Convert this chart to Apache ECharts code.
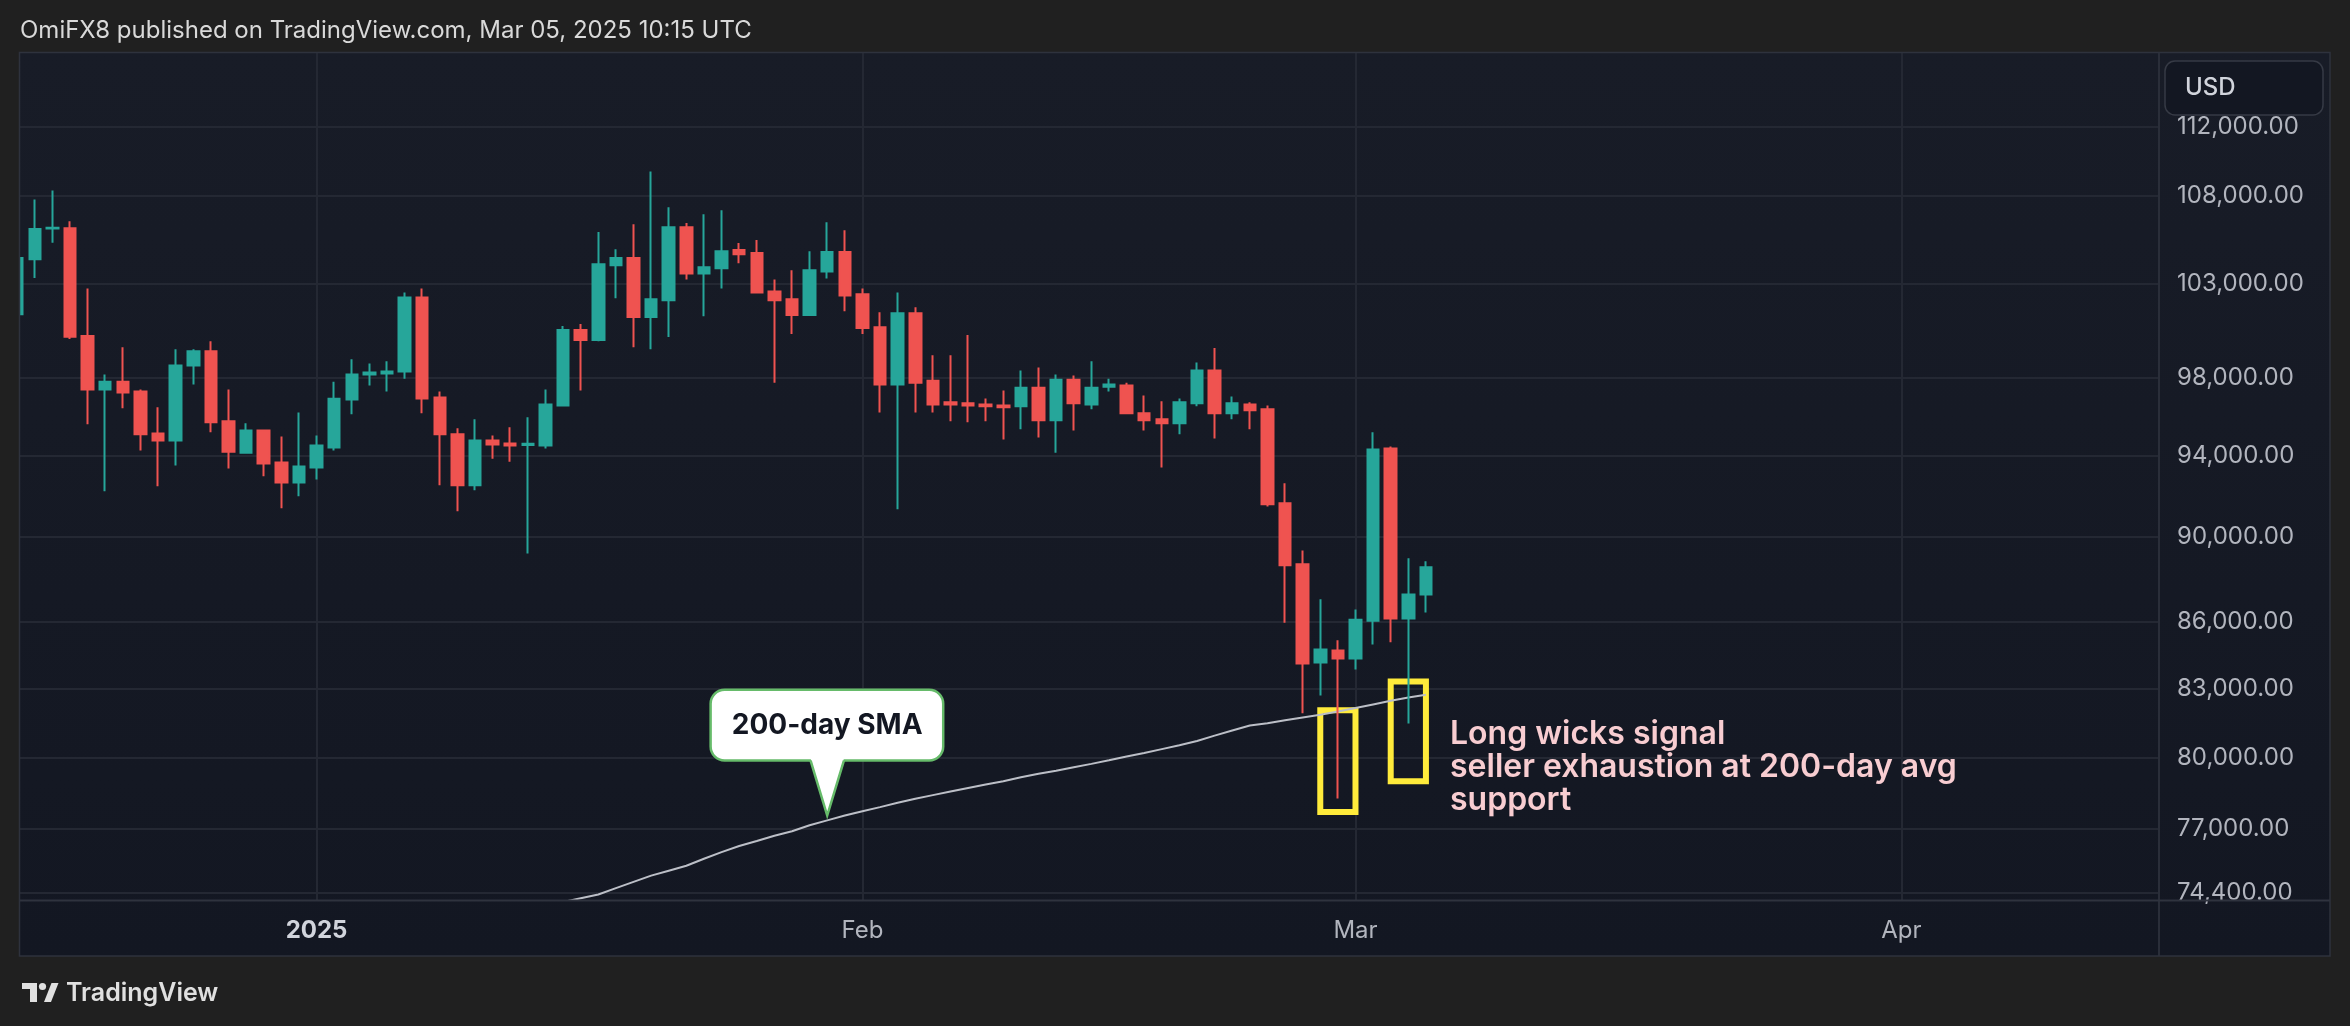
<!DOCTYPE html>
<html>
<head>
<meta charset="utf-8">
<script src="https://cdn.jsdelivr.net/npm/echarts@6/dist/echarts.min.js"></script>
<style>
html,body{margin:0;padding:0;background:#202020;}
#c{width:2350px;height:1026px;}
</style>
</head>
<body>
<div id="c"></div>
<script>
// ---------- data ----------
const dates = [
'2024-12-15','2024-12-16','2024-12-17','2024-12-18','2024-12-19','2024-12-20','2024-12-21','2024-12-22','2024-12-23','2024-12-24','2024-12-25','2024-12-26','2024-12-27','2024-12-28','2024-12-29','2024-12-30','2024-12-31',
'2025-01-01','2025-01-02','2025-01-03','2025-01-04','2025-01-05','2025-01-06','2025-01-07','2025-01-08','2025-01-09','2025-01-10','2025-01-11','2025-01-12','2025-01-13','2025-01-14','2025-01-15','2025-01-16','2025-01-17','2025-01-18','2025-01-19','2025-01-20','2025-01-21','2025-01-22','2025-01-23','2025-01-24','2025-01-25','2025-01-26','2025-01-27','2025-01-28','2025-01-29','2025-01-30','2025-01-31',
'2025-02-01','2025-02-02','2025-02-03','2025-02-04','2025-02-05','2025-02-06','2025-02-07','2025-02-08','2025-02-09','2025-02-10','2025-02-11','2025-02-12','2025-02-13','2025-02-14','2025-02-15','2025-02-16','2025-02-17','2025-02-18','2025-02-19','2025-02-20','2025-02-21','2025-02-22','2025-02-23','2025-02-24','2025-02-25','2025-02-26','2025-02-27','2025-02-28',
'2025-03-01','2025-03-02','2025-03-03','2025-03-04','2025-03-05'
];
const opens = [
101360,104380,106100,106120,100180,97360,97770,97260,95100,94750,98620,99370,95720,94130,95260,93640,92650,
93390,94390,96850,98150,98200,98300,102270,96950,95060,92510,94750,94600,94520,94490,96540,100500,99970,104040,104440,101200,102110,106180,103590,103870,104890,104720,102600,102170,101310,103700,104780,
102440,100660,97620,101410,97820,96700,96650,96590,96540,96490,97460,95780,97870,96590,97510,97570,96130,95830,95620,96650,98350,96130,96590,96340,91620,88690,84150,84700,
84330,86050,94340,86150,87270
];
const highs = [
105100,107760,108280,106520,102760,98140,99590,97360,96440,99480,99480,99910,97360,95620,95300,94950,96180,
95000,97770,98950,98730,98840,102540,102760,97260,95370,95830,95000,95420,95930,97360,100720,100830,105900,104940,106350,109390,107310,106410,106910,107140,105280,105450,103250,103760,104830,106460,106010,
102760,101470,102540,101740,99160,99160,100240,96900,97310,98350,98520,98140,98090,98840,97930,97720,97050,96750,96900,98780,99540,97000,96700,96540,92610,89340,87040,85160,
86570,95160,94440,88970,88830
];
const lows = [
101200,103330,105300,100020,95570,92210,96390,94240,92460,93490,97620,95160,93340,94080,92950,91380,91970,
92800,94240,96080,97570,97260,97930,96130,92510,91240,92260,93830,93680,89200,94340,96490,97310,99900,102220,99590,99480,100130,103250,101250,102760,104150,102500,97720,100290,101280,103310,101520,
100290,96180,91330,96180,96180,95720,95670,95720,94800,95320,94900,94130,95260,96340,97260,96080,95260,93390,95060,96490,94850,95830,95320,91470,85960,81900,82680,78260,
83840,84970,85070,81460,86430
];
const closes = [
104440,106070,106150,100140,97360,97770,97210,95060,94750,98620,99370,95670,94180,95260,93590,92650,93440,
94490,96880,98140,98250,98300,102270,96900,95060,92510,94750,94540,94500,94580,96590,100500,99970,104100,104440,101200,102170,106180,103590,103930,104830,104660,102540,102110,101310,103760,104780,102380,
100610,97620,101410,97720,96590,96590,96540,96500,96440,97460,95780,97870,96650,97460,97620,96130,95780,95620,96700,98350,96130,96650,96290,91570,88640,84110,84740,84330,
86100,94290,86150,87270,88540
];
// 200-day SMA, from 2025-01-14 to 2025-03-05
const smaStartIndex = 30;
const smaValues = [
73900,74050,74200,74350,74600,74850,75100,75300,75500,75780,76050,76300,76500,76720,76900,77150,77350,77550,
77730,77900,78080,78250,78400,78550,78700,78850,78980,79150,79300,79430,79580,79720,79870,80030,80180,80350,
80520,80700,80930,81150,81370,81470,81600,81720,81840,81980,82130,82290,82450,82600,82720
];
const priceTicks = [112000,108000,103000,98000,94000,90000,86000,83000,80000,77000,74400];
const monthTicks = ['2025-01-01','2025-02-01','2025-03-01','2025-04-01'];
const monthLabels = ['2025','Feb','Mar','Apr'];
const priceMin = 74130, priceMax = 116530;
const viewStart = '2024-12-15 03:50', viewEnd = '2025-04-15 15:07';
const boxes = [
  {from:'2025-02-27', to:'2025-03-01', top:82040, bottom:77700},
  {from:'2025-03-03', to:'2025-03-05', top:83300, bottom:78980}
];
const calloutAnchor = {date:'2025-01-30', price:77550, text:'200-day SMA'};
const noteText = 'Long wicks signal\nseller exhaustion at 200-day avg\nsupport';
const headerText = 'OmiFX8 published on TradingView.com, Mar 05, 2025 10:15 UTC';

// ---------- helpers ----------
function toTs(s){
  const parts = s.split(' ');
  const d = parts[0].split('-').map(Number);
  const t = (parts[1] || '00:00').split(':').map(Number);
  return new Date(d[0], d[1]-1, d[2], t[0], t[1]).getTime();
}
const L = Math.log;
const monthTs = monthTicks.map(toTs);
const UP = '#26a69a', DOWN = '#ef5350';
const FONT = 'Inter, "Noto Sans", sans-serif';

const candleData = dates.map((d,i)=>[toTs(d), L(opens[i]), L(closes[i]), L(lows[i]), L(highs[i])]);
const smaData = smaValues.map((v,i)=>[toTs(dates[smaStartIndex+i]), L(v)]);

const chart = echarts.init(document.getElementById('c'), null, {renderer:'canvas'});

const staticGraphics = [
  {id:'panel', type:'rect', z:-10, shape:{x:19.5,y:52.5,width:2310.5,height:903.5},
   style:{fill:new echarts.graphic.LinearGradient(0,0,0,1,[{offset:0,color:'#181c27'},{offset:1,color:'#131722'}])}},
  {id:'coverL', type:'rect', z:50, shape:{x:0,y:52,width:19,height:906}, style:{fill:'#202020'}},
  {id:'border', type:'rect', z:51, shape:{x:19.5,y:52.5,width:2310.5,height:903.5},
   style:{fill:'none', stroke:'#2e323d', lineWidth:1.5}},
  {id:'sepV', type:'line', z:5, shape:{x1:2159,y1:53,x2:2159,y2:956}, style:{stroke:'#2a2e39', lineWidth:2}},
  {id:'sepH', type:'line', z:5, shape:{x1:20,y1:900.5,x2:2330,y2:900.5}, style:{stroke:'#2f333e', lineWidth:2}},
  {id:'usdBox', type:'rect', z:60, shape:{x:2165,y:61,width:158,height:54,r:10},
   style:{fill:'#131722', stroke:'#363a45', lineWidth:1.5}},
  {id:'usdText', type:'text', z:61, x:2185, y:88,
   style:{text:'USD', fill:'#d1d4dc', font:'500 24px '+FONT, verticalAlign:'middle'}},
  {id:'header', type:'text', z:61, x:20, y:31,
   style:{text:headerText, fill:'#d9d9d9', font:'400 24px '+FONT, verticalAlign:'middle'}},
  {id:'note', type:'text', z:61, x:1450, y:718,
   style:{text:noteText, fill:'#f8cdd1', font:'600 32px '+FONT, lineHeight:33, verticalAlign:'top'}},
  {id:'lg1', type:'rect', z:61, shape:{x:22,y:983,width:15,height:6}, style:{fill:'#e0e0e0'}},
  {id:'lg2', type:'rect', z:61, shape:{x:30,y:983,width:7,height:19}, style:{fill:'#e0e0e0'}},
  {id:'lg3', type:'circle', z:61, shape:{cx:42.5,cy:986.5,r:3.6}, style:{fill:'#e0e0e0'}},
  {id:'lg4', type:'polygon', z:61, shape:{points:[[44,1002],[51.5,983],[58.5,983],[51,1002]]}, style:{fill:'#e0e0e0'}},
  {id:'footer', type:'text', z:61, x:66, y:993,
   style:{text:'TradingView', fill:'#e0e0e0', font:'600 25px '+FONT, verticalAlign:'middle'}}
];

const option = {
  backgroundColor:'#202020',
  animation:false,
  grid:{left:20, right:191, top:53, bottom:126, containLabel:false},
  xAxis:{
    type:'value',
    min:toTs(viewStart), max:toTs(viewEnd),
    axisLine:{show:false},
    axisTick:{show:false, customValues:monthTs},
    splitLine:{show:true, lineStyle:{color:'#242833', width:2}},
    axisLabel:{
      customValues:monthTs,
      margin:19,
      color:'#b2b5be',
      fontSize:24,
      fontFamily:FONT,
      formatter:function(v){
        let idx = 0, best = Infinity;
        monthTs.forEach((m,i)=>{ const dd = Math.abs(m - v); if (dd < best){best = dd; idx = i;} });
        return idx === 0 ? '{b|' + monthLabels[idx] + '}' : monthLabels[idx];
      },
      rich:{b:{fontWeight:'bold', color:'#d1d4dc', fontSize:24, fontFamily:FONT}}
    }
  },
  yAxis:{
    type:'value',
    position:'right',
    scale:true,
    min:L(priceMin), max:L(priceMax),
    axisLine:{show:false},
    axisTick:{show:false, customValues:priceTicks.map(L)},
    splitLine:{show:true, lineStyle:{color:'#242833', width:2}},
    axisLabel:{
      customValues:priceTicks.map(L),
      margin:18,
      color:'#b2b5be',
      fontSize:24,
      fontFamily:FONT,
      formatter:function(v){
        return Math.round(Math.exp(v)).toLocaleString('en-US',{minimumFractionDigits:2, maximumFractionDigits:2});
      }
    }
  },
  series:[
    {
      type:'line', name:'SMA200', data:smaData, showSymbol:false, symbol:'none', z:1,
      lineStyle:{color:'#bcbfc7', width:2}, silent:true
    },
    {
      type:'candlestick', name:'BTCUSD',
      dimensions:['date','open','close','lowest','highest'],
      encode:{x:0, y:[1,2,3,4]},
      data:candleData,
      barWidth:12, z:3,
      itemStyle:{color:UP, color0:DOWN, borderColor:UP, borderColor0:DOWN, borderWidth:2},
      markArea:{
        silent:true,
        itemStyle:{color:'rgba(0,0,0,0)', borderColor:'#ffeb3b', borderWidth:6},
        data:boxes.map(b=>[{coord:[toTs(b.from), L(b.top)]},{coord:[toTs(b.to), L(b.bottom)]}])
      }
    }
  ],
  graphic:{elements:staticGraphics}
};
chart.setOption(option);

// callout anchored to the SMA in data coordinates
const tip = chart.convertToPixel({xAxisIndex:0, yAxisIndex:0}, [toTs(calloutAnchor.date), L(calloutAnchor.price)]);
const tx = tip[0], ty = tip[1];
const bx = tx - 116.6, bw = 232.6, by = ty - 125.7, bh = 70.7;
const pb1 = tx - 16.6, pb2 = tx + 16.7, yb = by + bh;
chart.setOption({graphic:{elements:staticGraphics.concat([
  {id:'calloutBox', type:'rect', z:70, shape:{x:bx, y:by, width:bw, height:bh, r:14},
   style:{fill:'#ffffff', stroke:'#66bb6a', lineWidth:2.5}},
  {id:'calloutFill', type:'polygon', z:71, shape:{points:[[pb1, yb-2],[tx, ty],[pb2, yb-2]]},
   style:{fill:'#ffffff'}},
  {id:'calloutEdge', type:'polyline', z:72, shape:{points:[[pb1, yb],[tx, ty],[pb2, yb]]},
   style:{fill:'none', stroke:'#66bb6a', lineWidth:2.5}},
  {id:'calloutText', type:'text', z:73, x:tx, y:by + bh/2,
   style:{text:calloutAnchor.text, fill:'#131722', font:'700 28px '+FONT, align:'center', verticalAlign:'middle'}}
])}});
</script>
</body>
</html>
